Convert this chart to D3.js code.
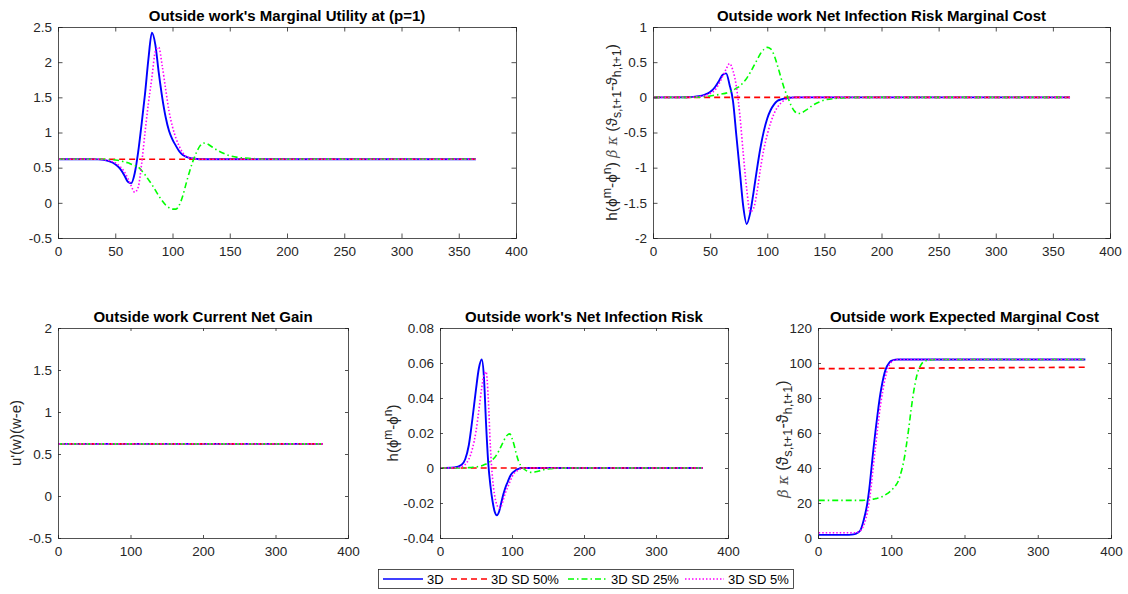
<!DOCTYPE html>
<html><head><meta charset="utf-8">
<script src="https://cdn.jsdelivr.net/npm/d3@7"></script>
<style>
body{margin:0;background:#fff;}
svg{display:block;font-family:"Liberation Sans",Arial,Helvetica,sans-serif;}
</style></head>
<body><svg id="chart" width="1128" height="594"></svg>
<script>
// ---------- DATA ----------
const days = [1,20,30,35,40,45,50,54,58,61,64,67,70,73,76,79,82,85,88,91,94,97,100,103,106,109,112,115,118,121,124,127,130,135,140,145,150,160,170,180,250,365];

const seriesNames = ["3D","3D SD 50%","3D SD 25%","3D SD 5%"];

// Panel 1: Outside work's Marginal Utility at (p=1)
const mu3D   = [0.62,0.62,0.62,0.618,0.61,0.59,0.55,0.49,0.39,0.30,0.28,0.42,0.72,1.12,1.55,2.05,2.42,2.25,1.85,1.50,1.22,1.02,0.90,0.81,0.73,0.68,0.655,0.64,0.63,0.625,0.62,0.62,0.62,0.62,0.62,0.62,0.62,0.62,0.62,0.62,0.62,0.62];
const muSD50 = [0.62,0.62,0.62,0.62,0.62,0.62,0.62,0.62,0.62,0.62,0.62,0.62,0.62,0.62,0.62,0.62,0.62,0.62,0.62,0.62,0.62,0.62,0.62,0.62,0.62,0.62,0.62,0.62,0.62,0.62,0.62,0.62,0.62,0.62,0.62,0.62,0.62,0.62,0.62,0.62,0.62,0.62];
const muSD25 = [0.62,0.62,0.62,0.62,0.62,0.615,0.61,0.60,0.58,0.57,0.55,0.53,0.51,0.46,0.40,0.33,0.26,0.18,0.10,0.03,-0.03,-0.07,-0.09,-0.09,-0.03,0.10,0.28,0.45,0.60,0.72,0.81,0.85,0.84,0.79,0.74,0.70,0.67,0.64,0.63,0.62,0.62,0.62];
const muSD5  = [0.62,0.62,0.62,0.62,0.615,0.60,0.57,0.52,0.44,0.35,0.24,0.15,0.22,0.55,1.00,1.42,1.78,2.15,2.21,1.95,1.62,1.30,1.08,0.92,0.80,0.71,0.66,0.64,0.63,0.625,0.62,0.62,0.62,0.62,0.62,0.62,0.62,0.62,0.62,0.62,0.62,0.62];

// Panel 2: Outside work Net Infection Risk Marginal Cost
const nc3D   = [0,0,0.002,0.006,0.015,0.035,0.075,0.14,0.24,0.32,0.34,0.18,-0.05,-0.55,-1.05,-1.55,-1.80,-1.65,-1.35,-1.02,-0.72,-0.48,-0.30,-0.18,-0.10,-0.05,-0.03,-0.015,-0.008,-0.004,0,0,0,0,0,0,0,0,0,0,0,0];
const ncSD50 = [0,0,0,0,0,0,0,0,0,0,0,0,0,0,0,0,0,0,0,0,0,0,0,0,0,0,0,0,0,0,0,0,0,0,0,0,0,0,0,0,0,0];
const ncSD25 = [0,0,0,0,0.003,0.01,0.02,0.03,0.04,0.05,0.06,0.08,0.10,0.13,0.16,0.21,0.27,0.35,0.44,0.53,0.62,0.68,0.71,0.69,0.60,0.45,0.28,0.12,0.0,-0.12,-0.20,-0.23,-0.22,-0.17,-0.11,-0.07,-0.04,-0.015,-0.005,0,0,0];
const ncSD5  = [0,0,0.001,0.003,0.01,0.025,0.055,0.10,0.20,0.30,0.40,0.48,0.38,0.15,-0.25,-0.80,-1.30,-1.63,-1.58,-1.35,-1.02,-0.74,-0.53,-0.36,-0.23,-0.14,-0.08,-0.04,-0.02,-0.008,0,0,0,0,0,0,0,0,0,0,0,0];

// Panel 3: Outside work Current Net Gain
const ng3D   = [0.62,0.62,0.62,0.62,0.62,0.62,0.62,0.62,0.62,0.62,0.62,0.62,0.62,0.62,0.62,0.62,0.62,0.62,0.62,0.62,0.62,0.62,0.62,0.62,0.62,0.62,0.62,0.62,0.62,0.62,0.62,0.62,0.62,0.62,0.62,0.62,0.62,0.62,0.62,0.62,0.62,0.62];
const ngSD50 = ng3D.slice();
const ngSD25 = ng3D.slice();
const ngSD5  = ng3D.slice();

// Panel 4: Outside work's Net Infection Risk
const ir3D   = [0,0.0003,0.0018,0.005,0.013,0.028,0.045,0.057,0.062,0.052,0.025,0.003,-0.010,-0.019,-0.025,-0.027,-0.025,-0.020,-0.015,-0.011,-0.008,-0.005,-0.003,-0.002,-0.001,-0.0005,0,0,0,0,0,0,0,0,0,0,0,0,0,0,0,0];
const irSD50 = [0,0,0,0,0,0,0,0,0,0,0,0,0,0,0,0,0,0,0,0,0,0,0,0,0,0,0,0,0,0,0,0,0,0,0,0,0,0,0,0,0,0];
const irSD25 = [0,0,0,0.0001,0.0002,0.0004,0.0006,0.0009,0.0013,0.0018,0.0023,0.003,0.0038,0.0048,0.006,0.0078,0.010,0.0125,0.015,0.0175,0.019,0.0195,0.017,0.013,0.008,0.004,0.0015,0.0002,-0.001,-0.0018,-0.0023,-0.0025,-0.0024,-0.002,-0.0014,-0.0009,-0.0005,-0.0002,-0.0001,0,0,0];
const irSD5  = [0,0.0001,0.0008,0.002,0.005,0.011,0.021,0.033,0.046,0.053,0.055,0.040,0.012,-0.006,-0.016,-0.021,-0.023,-0.022,-0.018,-0.014,-0.011,-0.008,-0.005,-0.003,-0.002,-0.001,-0.0005,0,0,0,0,0,0,0,0,0,0,0,0,0,0,0];

// Panel 5: Outside work Expected Marginal Cost
const em3D   = [1.8,1.8,1.8,1.8,1.8,1.9,2.2,3.0,4.5,8,13,19,28,40,52,63,73,82,89,94.5,98,100,101.2,101.7,101.9,102,102,102,102,102,102,102,102,102,102,102,102,102,102,102,102,102];
const emSD50 = [96.8,96.8,96.8,96.8,96.85,96.85,96.85,96.85,96.9,96.9,96.9,96.9,96.95,96.95,96.95,96.95,97.0,97.0,97.0,97.0,97.0,97.0,97.0,97.0,97.05,97.05,97.05,97.05,97.05,97.05,97.05,97.05,97.1,97.1,97.1,97.1,97.15,97.15,97.2,97.2,97.35,97.55];
const emSD25 = [21.5,21.5,21.5,21.5,21.5,21.5,21.5,21.5,21.5,21.5,21.6,21.7,21.8,22,22.2,22.5,22.8,23.2,23.7,24.4,25.2,26.1,27.2,28.5,30,32,35.5,40,46,54,63,73,82,93,98.5,101,101.6,102,102,102,102,102];
const emSD5  = [3,3,3,3,3,3,3,3.3,4.2,6,9,14,21,31,43,54,65,75,83,90,95,98.5,100.5,101.5,101.9,102,102,102,102,102,102,102,102,102,102,102,102,102,102,102,102,102];

// Tick values
const yTicks1 = [-0.5,0,0.5,1,1.5,2,2.5];
const yTicks2 = [-2,-1.5,-1,-0.5,0,0.5,1];
const yTicks3 = [-0.5,0,0.5,1,1.5,2];
const yTicks4 = [-0.04,-0.02,0,0.02,0.04,0.06,0.08];
const yTicks5 = [0,20,40,60,80,100,120];
const xTicksTop = [0,50,100,150,200,250,300,350,400];
const xTicksBottom = [0,100,200,300,400];

const titles = ["Outside work's Marginal Utility at (p=1)","Outside work Net Infection Risk Marginal Cost","Outside work Current Net Gain","Outside work's Net Infection Risk","Outside work Expected Marginal Cost"];

// ---------- STYLE ----------
const colors = ["#0000ff","#ff0000","#00ff00","#ff00ff"];
const dashes = [null,"6,4","6,3,1.5,3","1.5,2"];
const widths = [1.9,1.6,1.6,1.6];

const panels = [
  {x0:58, x1:516, y0:27, y1:238, yDom:[-0.5,2.5], yT:yTicks1, xT:xTicksTop, data:[mu3D,muSD50,muSD25,muSD5], tick:4.5, label:null},
  {x0:653,x1:1110,y0:27, y1:238, yDom:[-2,1], yT:yTicks2, xT:xTicksTop, data:[nc3D,ncSD50,ncSD25,ncSD5], tick:4.5, label:"nc", lx:617, fs:15.5, dyc:0},
  {x0:58, x1:348, y0:328,y1:538, yDom:[-0.5,2], yT:yTicks3, xT:xTicksBottom, data:[ng3D,ngSD50,ngSD25,ngSD5], tick:3, label:"ng", lx:21, fs:15, dyc:0},
  {x0:440,x1:728, y0:328,y1:538, yDom:[-0.04,0.08], yT:yTicks4, xT:xTicksBottom, data:[ir3D,irSD50,irSD25,irSD5], tick:3, label:"ir", lx:398, fs:15, dyc:0},
  {x0:818,x1:1111,y0:328,y1:538, yDom:[0,120], yT:yTicks5, xT:xTicksBottom, data:[em3D,emSD50,emSD25,emSD5], tick:3, label:"em", lx:788, fs:16, dyc:6}
];

const svg = d3.select("#chart");
const axisColor = "#262626";
const fmt = d => String(+d.toFixed(2)).replace("\u2212","-");

const labelParts = {
  nc: [["h("],["\u03D5"],["m","sup"],["-"],["\u03D5"],["n","sup"],[") "],["\u03B2 \u03BA","it"],[" ("],["\u03D1"],["s,t+1","sub"],["-"],["\u03D1"],["h,t+1","sub"],[")"]],
  ng: [["u'(w)(w-e)"]],
  ir: [["h("],["\u03D5"],["m","sup"],["-"],["\u03D5"],["n","sup"],[")"]],
  em: [["\u03B2 \u03BA","it"],[" ("],["\u03D1"],["s,t+1","sub"],["-"],["\u03D1"],["h,t+1","sub"],[")"]]
};

panels.forEach((p,i) => {
  const x = d3.scaleLinear().domain([0,400]).range([p.x0,p.x1]);
  const y = d3.scaleLinear().domain(p.yDom).range([p.y1,p.y0]);
  const g = svg.append("g");

  // lines
  const line = d3.line().x((d,j)=>x(days[j])).y(d=>y(d)).curve(d3.curveMonotoneX);
  p.data.forEach((arr,k) => {
    g.append("path").datum(arr).attr("d",line).attr("fill","none")
      .attr("stroke",colors[k]).attr("stroke-width",widths[k])
      .attr("stroke-dasharray",dashes[k]);
  });

  // axes (box, inward ticks)
  const bottom = d3.axisBottom(x).tickValues(p.xT).tickSize(-p.tick).tickPadding(8).tickFormat(fmt);
  const top = d3.axisTop(x).tickValues(p.xT).tickSize(-p.tick).tickFormat("");
  const left = d3.axisLeft(y).tickValues(p.yT).tickSize(-p.tick).tickPadding(6).tickFormat(fmt);
  const right = d3.axisRight(y).tickValues(p.yT).tickSize(-p.tick).tickFormat("");
  const ax = [
    g.append("g").attr("transform",`translate(0,${p.y1})`).call(bottom),
    g.append("g").attr("transform",`translate(0,${p.y0})`).call(top),
    g.append("g").attr("transform",`translate(${p.x0},0)`).call(left),
    g.append("g").attr("transform",`translate(${p.x1},0)`).call(right)
  ];
  ax.forEach(a => {
    a.select(".domain").attr("stroke",axisColor).attr("stroke-width",0.8);
    a.selectAll(".tick line").attr("stroke",axisColor).attr("stroke-width",0.8);
    a.selectAll(".tick text").attr("fill",axisColor).attr("font-size",13.5)
      .attr("font-family","'Liberation Sans',Arial,sans-serif");
  });

  // title
  svg.append("text").attr("x",(p.x0+p.x1)/2).attr("y",p.y0-6)
    .attr("text-anchor","middle").attr("font-weight","bold").attr("font-size",15)
    .attr("fill","#000").text(titles[i]);

  // y label
  if (p.label) {
    const cy = (p.y0+p.y1)/2 + p.dyc;
    const small = p.fs*0.8;
    const t = svg.append("text").attr("transform",`translate(${p.lx},${cy}) rotate(-90)`)
      .attr("text-anchor","middle").attr("font-size",p.fs).attr("fill",axisColor);
    let shift = 0;
    labelParts[p.label].forEach(([s,kind]) => {
      const ts = t.append("tspan").text(s);
      let target = 0;
      if (kind==="sup") { target=-6; ts.attr("font-size",small); }
      else if (kind==="sub") { target=4; ts.attr("font-size",small); }
      else if (kind==="it") { ts.attr("font-style","italic").attr("font-family","'DejaVu Serif',serif").attr("fill","#555").attr("font-size",p.fs-1.5); }
      if (target!==shift) { ts.attr("dy",target-shift); shift=target; }
    });
  }
});

// ---------- LEGEND ----------
const lg = svg.append("g");
const lx0 = 378, ly0 = 569, lw = 415, lh = 19;
lg.append("rect").attr("x",lx0+0.5).attr("y",ly0+0.5).attr("width",lw).attr("height",lh)
  .attr("fill","#fff").attr("stroke",axisColor).attr("stroke-width",0.8);
const legX = d3.scaleOrdinal().domain(seriesNames).range([383,451,568,685]);
const legLen = [40,36,39,39];
seriesNames.forEach((n,k) => {
  const sx = legX(n), cy = ly0 + lh/2 + 0.5;
  lg.append("line").attr("x1",sx).attr("x2",sx+legLen[k]).attr("y1",cy).attr("y2",cy)
    .attr("stroke",colors[k]).attr("stroke-width",widths[k]-0.3).attr("stroke-dasharray",dashes[k]);
  lg.append("text").attr("x",sx+legLen[k]+4).attr("y",cy+4.5).attr("font-size",13)
    .attr("fill","#000").text(n);
});
</script>
</body></html>
